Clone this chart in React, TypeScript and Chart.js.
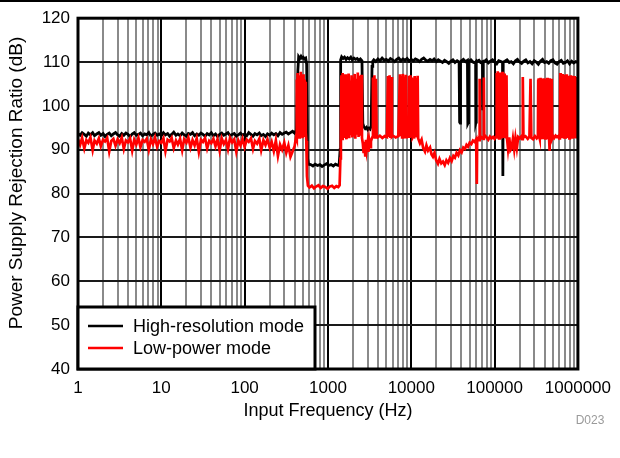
import { useEffect, useRef } from 'react';
import { Chart, registerables } from 'chart.js';

Chart.register(...registerables);

const FONT = "'Liberation Sans', Arial, Helvetica, sans-serif";

// ---------- axis ticks ----------
const xGridTicks = [
  1, 2, 3, 4, 5, 6, 7, 8, 9,
  10, 20, 30, 40, 50, 60, 70, 80, 90,
  100, 200, 300, 400, 500, 600, 700, 800, 900,
  1000, 2000, 3000, 4000, 5000, 6000, 7000, 8000, 9000,
  10000, 20000, 30000, 40000, 50000, 60000, 70000, 80000, 90000,
  100000, 200000, 300000, 400000, 500000, 600000, 700000, 800000, 900000,
  1000000,
];
const xMajorTicks = [1, 10, 100, 1000, 10000, 100000, 1000000];
const xTickLabels = ['1', '10', '100', '1000', '10000', '100000', '1000000'];
const yTicks = [40, 50, 60, 70, 80, 90, 100, 110, 120];

const xTitle = 'Input Frequency (Hz)';
const yTitle = 'Power Supply Rejection Ratio (dB)';
const seriesNames = ['High-resolution mode', 'Low-power mode'];
const figureId = 'D023';

// ---------- shared low-frequency sweep points (1 Hz .. 398 Hz) ----------
const baseFreq = [
  1, 1.06, 1.12, 1.19, 1.26, 1.33, 1.41, 1.5, 1.58, 1.68,
  1.78, 1.88, 2, 2.11, 2.24, 2.37, 2.51, 2.66, 2.82, 2.99,
  3.16, 3.35, 3.55, 3.76, 3.98, 4.22, 4.47, 4.73, 5.01, 5.31,
  5.62, 5.96, 6.31, 6.68, 7.08, 7.5, 7.94, 8.41, 8.91, 9.44,
  10, 10.6, 11.2, 11.9, 12.6, 13.3, 14.1, 15, 15.8, 16.8,
  17.8, 18.8, 20, 21.1, 22.4, 23.7, 25.1, 26.6, 28.2, 29.9,
  31.6, 33.5, 35.5, 37.6, 39.8, 42.2, 44.7, 47.3, 50.1, 53.1,
  56.2, 59.6, 63.1, 66.8, 70.8, 75, 79.4, 84.1, 89.1, 94.4,
  100, 106, 112, 119, 126, 133, 141, 150, 158, 168,
  178, 188, 200, 211, 224, 237, 251, 266, 282, 299,
  316, 335, 355, 376, 398,
];

// ---------- High-resolution mode ----------
const hrFreq = [
  ...baseFreq,
  420, 435, 445, 460, 475, 490, 505,
  520, 540, 555, 570, 585, 620, 660, 700, 750, 800,
  850, 900, 960, 1020, 1090, 1160, 1230, 1300, 1360, 1400,
  1420, 1460, 1520, 1580, 1650, 1720, 1800, 1880, 1960, 2050,
  2140, 2240, 2340, 2450, 2560, 2620, 2700, 2800, 2900, 3000,
  3100, 3200, 3300, 3380, 3450, 3550, 3750, 3980, 4220, 4470,
  4730, 5010, 5310, 5620, 5960, 6310, 6680, 7080, 7500, 7940,
  8410, 8910, 9440, 10000, 10600, 11200, 11900, 12600, 13300, 14100,
  15000, 15800, 16800, 17800, 18800, 20000, 21100, 22400, 23700, 25100,
  26600, 28200, 29900, 31600, 33500, 35500, 37500, 37900, 38200, 38600,
  39000, 40000, 42200, 44700, 47200, 47600, 47900, 48300, 48700, 49500,
  52000, 55000, 58000, 59200, 59500, 59900, 60300, 62000, 65000, 68000,
  71500, 72100, 72600, 73200, 75000, 79400, 84100, 89100, 94400, 100000,
  106000, 112000, 119000, 124500, 125300, 126100, 126900, 133000, 141000, 150000,
  158000, 168000, 178000, 188000, 200000, 211000, 224000, 237000, 251000, 266000,
  282000, 299000, 316000, 335000, 355000, 376000, 398000, 422000, 447000, 473000,
  501000, 531000, 562000, 596000, 631000, 668000, 708000, 750000, 794000, 841000,
  891000, 944000, 1000000,
];
const hrPsrr = [
  93.7, 93.3, 93.9, 93.5, 93.1, 93.8, 93.4, 93.9, 93.2, 93.6,
  93.9, 93.3, 93.7, 93.0, 93.5, 93.8, 93.2, 93.6, 93.9, 93.4,
  93.1, 93.7, 93.3, 93.8, 93.5, 93.0, 93.6, 93.9, 93.3, 93.5,
  93.8, 93.2, 93.6, 93.4, 93.9, 93.1, 93.5, 93.8, 93.3, 93.6,
  93.2, 93.9, 93.4, 93.7, 93.1, 93.5, 94.0, 93.3, 93.6, 93.2,
  93.8, 93.4, 93.1, 93.7, 93.5, 93.9, 93.2, 93.6, 93.3, 93.8,
  93.5, 93.1, 93.7, 93.4, 93.9, 93.2, 93.6, 93.0, 93.5, 93.8,
  93.3, 93.6, 93.9, 93.2, 93.5, 93.7, 93.1, 93.4, 93.8, 93.3,
  93.6, 93.2, 93.9, 93.5, 93.1, 93.7, 93.4, 93.8, 93.2, 93.5,
  93.0, 93.6, 93.3, 93.8, 93.4, 93.7, 93.2, 93.9, 93.5, 93.8,
  94.0, 93.6, 93.9, 94.2, 93.8,
  94.5, 108.0, 111.2, 110.8, 111.3, 110.9, 111.1,
  110.7, 110.9, 109.5, 88.0, 86.7, 86.6, 86.3, 86.7, 86.4, 86.6,
  86.2, 86.5, 86.8, 86.4, 86.6, 86.3, 86.7, 86.5, 86.4, 90.0,
  110.5, 111.2, 110.8, 111.1, 110.6, 111.0, 110.7, 111.1, 110.5, 110.9,
  110.6, 110.8, 110.4, 110.7, 110.3, 96.0, 95.2, 94.8, 95.1, 94.6,
  94.9, 94.7, 95.4, 109.0, 110.2, 110.5, 110.1, 110.7, 110.3, 110.9,
  110.4, 110.6, 110.2, 110.8, 110.5, 110.1, 110.6, 110.9, 110.3, 110.7,
  110.4, 110.8, 110.2, 110.6, 110.3, 110.7, 110.5, 110.1, 110.6, 110.9,
  110.4, 110.2, 110.6, 110.3, 110.7, 110.1, 110.5, 110.2, 109.9, 110.4,
  110.1, 109.7, 110.2, 110.5, 109.9, 110.3, 110.0, 109.8, 96.3, 96.1,
  110.0, 110.3, 110.6, 110.1, 110.4, 109.9, 96.0, 96.2, 110.1, 110.2,
  110.5, 110.0, 109.8, 110.0, 96.1, 96.3, 109.9, 110.2, 110.4, 109.9,
  110.1, 99.0, 99.5, 110.0, 110.1, 110.5, 109.8, 110.2, 110.5, 110.0,
  109.6, 110.3, 110.1, 109.9, 84.2, 84.0, 110.0, 110.2, 110.5, 109.9,
  110.1, 109.6, 110.3, 110.6, 110.0, 109.7, 110.2, 110.5, 109.8, 110.1,
  109.6, 110.3, 110.0, 109.5, 110.2, 110.6, 109.9, 110.1, 109.7, 110.3,
  110.5, 109.8, 109.5, 110.1, 110.4, 109.7, 109.9, 110.3, 109.6, 110.2,
  109.8, 110.1, 109.9,
];

// ---------- Low-power mode ----------
const lpFreq = [
  ...baseFreq,
  415, 420, 425, 432, 438, 445, 452, 458, 465, 472,
  480, 487, 495, 502, 510, 518, 526, 534, 542, 550,
  560, 575, 600, 640, 680, 720, 770, 820, 870, 930,
  990, 1050, 1120, 1190, 1260, 1330, 1380, 1410, 1430, 1450,
  1475, 1500, 1525, 1550, 1580, 1610, 1640, 1670, 1700, 1730,
  1770, 1800, 1840, 1880, 1920, 1960, 2000, 2040, 2090, 2130,
  2180, 2230, 2280, 2330, 2380, 2440, 2500, 2560, 2620, 2680,
  2740, 2800, 2860, 2920, 2990, 3060, 3130, 3200, 3280, 3350,
  3420, 3470, 3540, 3610, 3680, 3760, 3840, 3950, 4200, 4500,
  4800, 5100, 5250, 5370, 5490, 5610, 5740, 5860, 6000, 6500,
  7000, 7310, 7450, 7600, 7760, 7920, 8080, 8240, 8410, 8580,
  8760, 8950, 9200, 9380, 9580, 9780, 9980, 10180, 10400, 10600,
  10770, 10990, 11220, 11450, 11690, 11930, 12100, 12700, 13300, 13900,
  14600, 15200, 15900, 16800, 17500, 18200, 19000, 19900, 20900, 21800,
  22900, 24000, 25200, 26400, 27700, 29100, 30500, 32000, 33400, 35000,
  36700, 38400, 40200, 42100, 44100, 46000, 47900, 50200, 52500, 55000,
  57500, 60000, 61000, 61400, 61800, 63500, 65500, 66200, 66900, 68000,
  73500, 74300, 75100, 78000, 84000, 88000, 92000, 96000, 100000, 104000,
  106000, 107500, 109000, 110500, 112000, 113500, 115000, 116500, 118000, 119500,
  121000, 122500, 124000, 125500, 127000, 128500, 130000, 131500, 133000, 134500,
  136000, 137500, 139000, 141000, 145000, 150000, 155000, 160000, 166000, 172000,
  178000, 185000, 192000, 200000, 208000, 214000, 218000, 222000, 235000, 250000,
  262000, 270000, 276000, 290000, 305000, 320000, 331000, 334000, 337000, 340000,
  343000, 346000, 349000, 352000, 355000, 358000, 361000, 364000, 367000, 370000,
  374000, 378000, 382000, 386000, 390000, 394000, 398000, 402000, 406000, 410000,
  414000, 418000, 422000, 426000, 430000, 435000, 440000, 445000, 450000, 455000,
  460000, 465000, 470000, 475000, 480000, 485000, 490000, 505000, 520000, 540000,
  560000, 580000, 595000, 608000, 615000, 622000, 630000, 637000, 645000, 653000,
  661000, 669000, 677000, 685000, 693000, 701000, 710000, 718000, 727000, 736000,
  745000, 754000, 763000, 772000, 781000, 790000, 800000, 810000, 820000, 830000,
  840000, 850000, 860000, 870000, 881000, 892000, 903000, 914000, 925000, 936000,
  947000, 958000, 970000, 982000, 994000, 1000000,
];
const lpPsrr = [
  92.4, 91.1, 92.7, 90.3, 92.2, 91.6, 92.8, 89.9, 92.1, 91.4,
  92.6, 90.8, 92.3, 91.9, 92.7, 89.6, 92.0, 92.5, 90.9, 92.4,
  91.5, 92.8, 90.2, 92.1, 91.7, 92.6, 89.8, 92.3, 91.2, 92.7,
  90.6, 92.2, 91.8, 92.5, 90.0, 92.4, 91.3, 92.8, 90.7, 92.0,
  91.6, 92.6, 89.7, 92.3, 91.9, 92.7, 90.4, 92.1, 91.2, 92.5,
  89.9, 92.4, 91.6, 92.8, 90.5, 92.2, 91.0, 92.6, 89.5, 92.3,
  91.8, 92.7, 90.3, 92.0, 91.5, 92.5, 90.8, 92.4, 89.8, 92.6,
  91.3, 92.2, 90.1, 92.7, 91.7, 92.4, 89.6, 92.1, 91.0, 92.5,
  90.6, 92.3, 91.8, 92.6, 90.2, 92.0, 91.4, 92.5, 89.9, 92.2,
  91.1, 92.4, 90.5, 91.8, 89.7, 92.1, 88.6, 91.2, 90.0, 91.6,
  89.3, 91.0, 88.4, 89.6, 90.8,
  93.0, 106.0, 92.5, 107.5, 93.5, 107.0, 92.8, 106.5, 93.2, 107.8,
  94.0, 106.8, 92.6, 107.2, 93.4, 106.0, 92.9, 105.5, 94.0, 92.0,
  84.0, 81.8, 81.4, 81.8, 81.2, 81.6, 81.9, 81.3, 81.7, 81.5,
  81.1, 81.6, 81.8, 81.3, 81.7, 81.5, 81.9, 88.0, 93.0, 107.0,
  92.5, 107.5, 93.2, 106.0, 92.7, 107.2, 93.5, 92.4, 106.8, 93.0,
  107.4, 92.6, 105.8, 93.3, 107.0, 92.8, 106.5, 93.1, 107.3, 92.5,
  106.2, 93.4, 107.6, 92.9, 106.9, 93.2, 107.1, 92.7, 91.5, 89.2,
  91.8, 88.7, 92.3, 90.1, 91.6, 89.5, 92.0, 90.6, 91.9, 92.5,
  92.9, 106.5, 93.0, 107.0, 92.8, 106.2, 93.1, 92.8, 93.2, 92.7,
  93.1, 92.9, 106.8, 92.9, 107.0, 92.7, 106.6, 93.0, 93.2, 92.8,
  93.1, 107.2, 93.1, 106.9, 92.8, 107.3, 93.2, 106.7, 92.9, 107.1,
  93.0, 92.9, 93.2, 106.9, 92.7, 107.0, 93.1, 106.5, 92.8, 93.1,
  93.0, 106.8, 92.8, 106.4, 93.1, 106.9, 92.6, 91.5, 92.3, 90.4,
  89.6, 91.0, 89.8, 90.5, 88.9, 88.4, 89.3, 87.6, 86.8, 87.9,
  86.9, 87.3, 86.5, 87.6, 87.0, 88.1, 87.4, 88.6, 88.2, 89.3,
  88.7, 89.9, 89.4, 90.5, 90.2, 91.1, 90.7, 91.6, 91.3, 92.1,
  91.8, 92.4, 88.0, 82.2, 92.3, 92.6, 92.2, 106.2, 92.6, 93.0,
  92.5, 106.5, 92.8, 93.1, 92.3, 93.0, 92.6, 92.9, 92.5, 93.0,
  107.5, 92.8, 107.9, 93.4, 106.8, 92.6, 107.6, 93.1, 106.5, 92.9,
  107.2, 93.3, 107.8, 92.7, 106.9, 93.2, 107.4, 92.8, 107.1, 93.0,
  106.6, 92.9, 107.0, 92.6, 90.2, 92.8, 89.9, 90.3, 92.5, 90.1,
  92.7, 90.4, 92.9, 92.6, 93.0, 92.4, 106.6, 92.8, 93.1, 92.5,
  93.0, 106.2, 92.7, 92.4, 93.1, 92.6, 93.0, 106.0, 92.5, 106.3,
  93.1, 105.8, 92.6, 106.1, 92.9, 106.4, 93.2, 105.9, 92.4, 106.2,
  93.0, 105.7, 92.7, 106.3, 92.8, 105.9, 93.1, 106.2, 92.6, 106.0,
  93.0, 105.8, 92.5, 106.4, 93.2, 106.1, 92.7, 105.9, 92.9, 106.3,
  89.8, 106.0, 92.8, 105.7, 93.0, 106.2, 92.5, 93.1, 92.7, 93.2,
  92.9, 93.1, 92.6, 93.0, 107.5, 92.7, 107.0, 93.2, 106.5, 92.6,
  107.3, 93.1, 106.8, 92.8, 107.1, 93.3, 106.6, 92.5, 107.2, 93.0,
  106.4, 92.7, 106.9, 93.1, 106.3, 92.6, 106.7, 92.9, 107.0, 93.2,
  106.5, 92.8, 106.9, 93.0, 106.4, 92.6, 106.8, 93.1, 106.2, 92.7,
  106.6, 92.9, 106.3, 93.0, 106.5, 92.8,
];

const seriesColors = ['#000000', '#ff0000'];

export default function App() {
  const ref = useRef<HTMLCanvasElement>(null);

  useEffect(() => {
    document.body.style.margin = '0';
    const canvas = ref.current;
    if (!canvas) return;

    const decor = {
      id: 'decor',
      beforeDraw(chart: any) {
        const ctx = chart.ctx;
        ctx.save();
        ctx.fillStyle = '#ffffff';
        ctx.fillRect(0, 0, chart.width, chart.height);
        ctx.strokeStyle = '#000000';
        ctx.lineWidth = 2;
        ctx.beginPath();
        ctx.moveTo(0, 1);
        ctx.lineTo(chart.width, 1);
        ctx.stroke();
        ctx.restore();
      },
      afterDatasetsDraw(chart: any) {
        const ctx = chart.ctx;
        const a = chart.chartArea;
        ctx.save();
        ctx.strokeStyle = '#000000';
        ctx.lineWidth = 3;
        ctx.strokeRect(a.left, a.top, a.right - a.left, a.bottom - a.top);
        const lx = a.left;
        const ly = a.bottom - 62;
        const lw = 237;
        const lh = 62;
        ctx.fillStyle = '#ffffff';
        ctx.fillRect(lx, ly, lw, lh);
        ctx.lineWidth = 3;
        ctx.strokeRect(lx, ly, lw, lh);
        const rows = [ly + 19, ly + 41];
        ctx.font = `18px ${FONT}`;
        ctx.textBaseline = 'middle';
        ctx.textAlign = 'left';
        for (let i = 0; i < seriesNames.length; i++) {
          ctx.strokeStyle = seriesColors[i];
          ctx.lineWidth = 2.5;
          ctx.beginPath();
          ctx.moveTo(lx + 10, rows[i]);
          ctx.lineTo(lx + 45, rows[i]);
          ctx.stroke();
          ctx.fillStyle = '#000000';
          ctx.fillText(seriesNames[i], lx + 55, rows[i] + 1);
        }
        ctx.restore();
      },
      afterDraw(chart: any) {
        const ctx = chart.ctx;
        const a = chart.chartArea;
        ctx.save();
        ctx.fillStyle = '#000000';
        ctx.font = `18px ${FONT}`;
        ctx.textAlign = 'center';
        ctx.textBaseline = 'middle';
        ctx.fillText(xTitle, (a.left + a.right) / 2, 411);
        ctx.save();
        ctx.font = `19px ${FONT}`;
        ctx.translate(17, 183);
        ctx.rotate(-Math.PI / 2);
        ctx.fillText(yTitle, 0, 0);
        ctx.restore();
        ctx.fillStyle = '#9a9a9a';
        ctx.font = `12px ${FONT}`;
        ctx.fillText(figureId, 590, 421);
        ctx.restore();
      },
    };

    const chart = new Chart(canvas, {
      type: 'line',
      data: {
        datasets: [
          {
            label: seriesNames[1],
            data: lpFreq.map((f, i) => ({ x: f, y: lpPsrr[i] })),
            borderColor: seriesColors[1],
            backgroundColor: seriesColors[1],
            borderWidth: 2.7,
            pointRadius: 0,
            tension: 0,
            fill: false,
          },
          {
            label: seriesNames[0],
            data: hrFreq.map((f, i) => ({ x: f, y: hrPsrr[i] })),
            borderColor: seriesColors[0],
            backgroundColor: seriesColors[0],
            borderWidth: 2.8,
            pointRadius: 0,
            tension: 0,
            fill: false,
          },
        ],
      },
      options: {
        responsive: false,
        animation: false,
        devicePixelRatio: 1,
        layout: { padding: { top: 16, right: 42, left: 0, bottom: 0 } },
        plugins: {
          legend: { display: false },
          tooltip: { enabled: false },
          title: { display: false },
        },
        scales: {
          x: {
            type: 'logarithmic',
            min: 1,
            max: 1000000,
            afterBuildTicks: (s: any) => {
              s.ticks = xGridTicks.map((v) => ({ value: v, major: xMajorTicks.includes(v) }));
            },
            afterFit: (s: any) => {
              s.height = 89;
            },
            border: { display: false },
            grid: {
              drawTicks: false,
              color: (c: any) => (xMajorTicks.includes(c.tick?.value) ? '#000000' : '#8a8a8a'),
              lineWidth: 2,
            },
            ticks: {
              autoSkip: false,
              maxRotation: 0,
              minRotation: 0,
              padding: 9,
              color: '#000000',
              font: { family: FONT, size: 17 },
              callback: (v: any) => {
                const k = xMajorTicks.indexOf(Number(v));
                return k >= 0 ? xTickLabels[k] : '';
              },
            },
          },
          y: {
            type: 'linear',
            min: yTicks[0],
            max: yTicks[yTicks.length - 1],
            afterBuildTicks: (s: any) => {
              s.ticks = yTicks.map((v) => ({ value: v }));
            },
            afterFit: (s: any) => {
              s.width = 78;
            },
            border: { display: false },
            grid: { drawTicks: false, color: '#1a1a1a', lineWidth: 2 },
            ticks: {
              padding: 8,
              color: '#000000',
              font: { family: FONT, size: 17 },
              callback: (v: any) => String(v),
            },
          },
        },
      },
      plugins: [decor],
    } as any);

    return () => chart.destroy();
  }, []);

  return (
    <div style={{ width: 620, height: 458 }}>
      <canvas ref={ref} width={620} height={458} style={{ display: 'block' }} />
    </div>
  );
}
